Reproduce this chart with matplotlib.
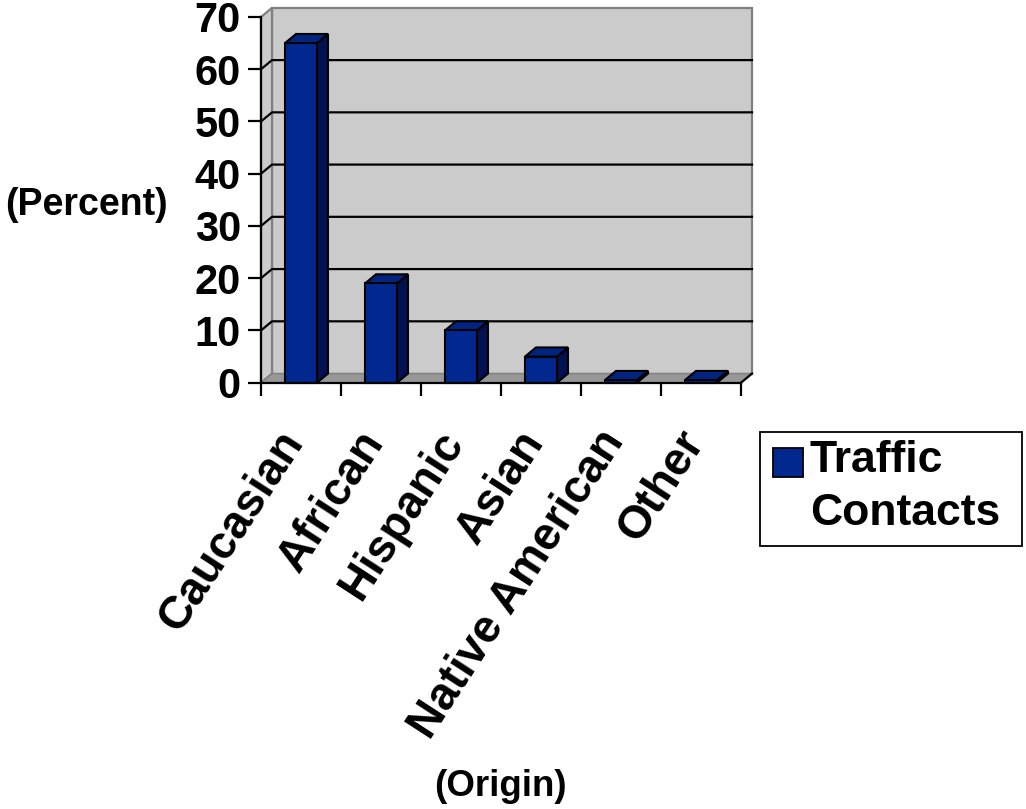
import matplotlib
matplotlib.use("Agg")
import matplotlib.pyplot as plt
from matplotlib.patches import Polygon, Rectangle
from matplotlib.transforms import ScaledTranslation

plt.rcParams['font.family'] = ['Liberation Sans', 'DejaVu Sans']

# Data
categories = ["Caucasian", "African", "Hispanic", "Asian", "Native American", "Other"]
traffic_contacts = [65, 19, 10, 5, 0.5, 0.5]
y_ticks = [0, 10, 20, 30, 40, 50, 60, 70]
series_name = "Traffic\nContacts"

W, H, DPI = 1026, 809, 100
fig = plt.figure(figsize=(W / DPI, H / DPI), dpi=DPI)
fig.patch.set_facecolor("white")

# Front plane of the plot area in pixels (left, top, right, bottom)
L, T, R, B = 261, 17, 741, 382.7
ax = fig.add_axes([L / W, 1 - B / H, (R - L) / W, (B - T) / H])
ymax = 70
ax.set_xlim(0, len(categories))
ax.set_ylim(0, ymax)
ax.set_facecolor("none")

# depth of the pseudo-3D box, in data units
dx, dy = 0.1375, 1.75

wall_c = "#CBCBCB"
floor_c = "#979797"
border_c = "#808080"
front_c = "#00288F"
side_c = "#001250"
top_c = "#002480"
n = len(categories)

# back wall
ax.add_patch(Polygon([(dx, dy), (n + dx, dy), (n + dx, ymax + dy), (dx, ymax + dy)],
                     closed=True, fc=wall_c, ec=border_c, lw=1.6, clip_on=False, zorder=1))
# side wall
ax.add_patch(Polygon([(0, 0), (dx, dy), (dx, ymax + dy), (0, ymax)],
                     closed=True, fc=wall_c, ec=border_c, lw=1.6, clip_on=False, zorder=1))
# floor
ax.add_patch(Polygon([(0, 0), (n, 0), (n + dx, dy), (dx, dy)],
                     closed=True, fc=floor_c, ec=border_c, lw=1.0, clip_on=False, zorder=1.5))

# gridlines on walls
for yv in y_ticks[1:-1]:
    ax.plot([0, dx, n + dx], [yv, yv + dy, yv + dy], color="black", lw=1.6,
            clip_on=False, zorder=2)

# bars
half = 0.2
for i, v in enumerate(traffic_contacts):
    c = i + 0.5
    x0, x1 = c - half, c + half
    ax.add_patch(Polygon([(x1, 0), (x1 + dx, dy), (x1 + dx, v + dy), (x1, v)],
                         closed=True, fc=side_c, ec="black", lw=1.5, clip_on=False, zorder=3))
    ax.add_patch(Polygon([(x0, v), (x1, v), (x1 + dx, v + dy), (x0 + dx, v + dy)],
                         closed=True, fc=top_c, ec="black", lw=1.5, clip_on=False, zorder=3))
    ax.add_patch(Rectangle((x0, 0), 2 * half, v, fc=front_c, ec="black", lw=1.5,
                           clip_on=False, zorder=4))

# right end of the floor edge
ax.plot([n, n + dx], [0, dy], color="black", lw=1.6, clip_on=False, zorder=5)

# axes
for s in ["top", "right"]:
    ax.spines[s].set_visible(False)
for s in ["left", "bottom"]:
    ax.spines[s].set_linewidth(1.6)
    ax.spines[s].set_zorder(5)
ax.set_yticks(y_ticks)
ax.set_yticklabels([str(t) for t in y_ticks], fontsize=30, fontweight="bold")
ax.tick_params(axis="y", direction="out", length=9.5, width=1.6, pad=5)
ax.set_xticks(range(n + 1))
ax.set_xticklabels([""] * (n + 1))
ax.tick_params(axis="x", direction="out", length=9, width=1.6)

# category labels
off = ScaledTranslation(-25 / DPI, -40 / DPI, fig.dpi_scale_trans)
for i, name in enumerate(categories):
    ax.text(i + 0.5, 0, name, transform=ax.transData + off, rotation=57,
            rotation_mode="anchor", ha="right", va="top", fontsize=33,
            fontweight="bold", clip_on=False)

# axis titles
fig.text(86 / W, 1 - 205 / H, "(Percent)", ha="center", va="center",
         fontsize=27, fontweight="bold")
fig.text(500 / W, 1 - 787 / H, "(Origin)", ha="center", va="center",
         fontsize=26.5, fontweight="bold")

# legend
fig.patches.append(Rectangle((760 / W, 1 - 546 / H), 262 / W, 114 / H,
                             transform=fig.transFigure, fc="white", ec="black", lw=1.3))
fig.patches.append(Rectangle((773 / W, 1 - 477 / H), 30 / W, 29 / H,
                             transform=fig.transFigure, fc=front_c, ec="black", lw=1.3))
lines = series_name.split("\n")
fig.text(810 / W, 1 - 472 / H, lines[0], ha="left", va="baseline",
         fontsize=32, fontweight="bold")
fig.text(810 / W, 1 - 525 / H, lines[1], ha="left", va="baseline",
         fontsize=32, fontweight="bold")

fig.savefig("out.png", dpi=DPI)
